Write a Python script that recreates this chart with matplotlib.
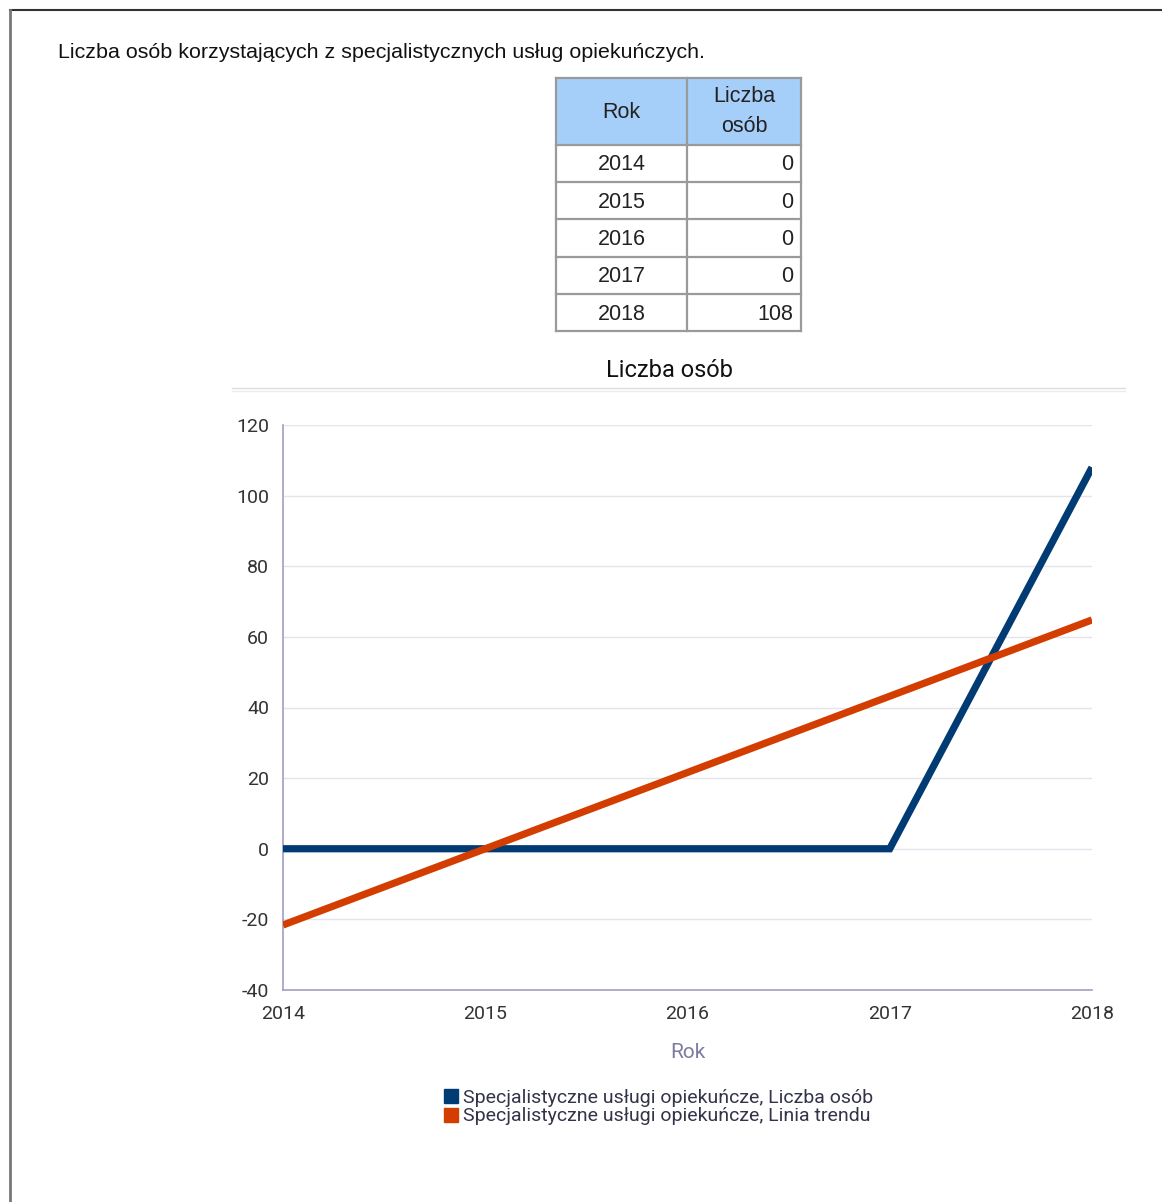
import matplotlib
matplotlib.use("Agg")
import matplotlib.pyplot as plt
from matplotlib.patches import Rectangle
from matplotlib.lines import Line2D
from matplotlib import font_manager

years = [2014, 2015, 2016, 2017, 2018]
liczba_osob = [0, 0, 0, 0, 108]
linia_trendu = [-21.6, 0.0, 21.6, 43.2, 64.8]
y_ticks = [-40, -20, 0, 20, 40, 60, 80, 100, 120]
header_text = "Liczba osób korzystających z specjalistycznych usług opiekuńczych."
table_cols = ["Rok", "Liczba\nosób"]
chart_title = "Liczba osób"
x_label = "Rok"
legend_labels = ["Specjalistyczne usługi opiekuńcze, Liczba osób",
                 "Specjalistyczne usługi opiekuńcze, Linia trendu"]

W, H = 1162, 1202
fig = plt.figure(figsize=(W / 100, H / 100), dpi=100)

names = {f.name for f in font_manager.fontManager.ttflist}
narrow = "Liberation Sans Narrow" if "Liberation Sans Narrow" in names else "Roboto"
sans = "Liberation Sans"

def fx(x):
    return x / W

def fy(y):
    return 1 - y / H

# page border (top and left)
fig.add_artist(Line2D([fx(10), 1], [fy(10), fy(10)], color="#333333", lw=1.5))
fig.add_artist(Line2D([fx(10), fx(10)], [fy(10), 0], color="#777777", lw=2))

fig.text(fx(58), fy(52), header_text, fontsize=15.4, family=sans,
         ha="left", va="center", color="#111111")

# table
col_x = [556, 687, 801]
row_y = [78, 145, 182, 219, 257, 294, 331]
fig.add_artist(Rectangle((fx(col_x[0]), fy(row_y[1])), fx(col_x[2] - col_x[0]),
                         (row_y[1] - row_y[0]) / H, facecolor="#a5cff9",
                         edgecolor="none"))
for x in col_x:
    fig.add_artist(Line2D([fx(x), fx(x)], [fy(row_y[0]), fy(row_y[-1])],
                          color="#9a9a9a", lw=1.6))
for y in row_y:
    fig.add_artist(Line2D([fx(col_x[0]), fx(col_x[2])], [fy(y), fy(y)],
                          color="#9a9a9a", lw=1.6))
fig.text(fx((col_x[0] + col_x[1]) / 2), fy((row_y[0] + row_y[1]) / 2 + 1), table_cols[0],
         fontsize=15.5, family=sans, ha="center", va="center", color="#222222")
fig.text(fx((col_x[1] + col_x[2]) / 2), fy((row_y[0] + row_y[1]) / 2), table_cols[1],
         fontsize=15.5, family=sans, ha="center", va="center", color="#222222",
         linespacing=1.6)
for i, (yr, v) in enumerate(zip(years, liczba_osob)):
    yc = (row_y[i + 1] + row_y[i + 2]) / 2 + 1.5
    fig.text(fx((col_x[0] + col_x[1]) / 2), fy(yc), str(yr), fontsize=15.5,
             family=sans, ha="center", va="center", color="#222222")
    fig.text(fx(col_x[2] - 8), fy(yc), str(v), fontsize=15.5,
             family=sans, ha="right", va="center", color="#222222")

# chart title and separator
fig.text(fx(670), fy(371), chart_title, fontsize=17, family=narrow,
         ha="center", va="center", color="#111111")
fig.add_artist(Line2D([fx(232), fx(1125)], [fy(388), fy(388)], color="#dcdcdc", lw=1))
fig.add_artist(Line2D([fx(232), fx(1125)], [fy(391), fy(391)], color="#ececec", lw=1))

# axes
left, right, top, bottom = 283, 1092, 425, 990
ax = fig.add_axes([fx(left), fy(bottom), (right - left) / W, (bottom - top) / H])
ax.plot(years, liczba_osob, color="#003b73", lw=5.2, solid_capstyle="butt",
        solid_joinstyle="miter", zorder=3)
ax.plot(years, linia_trendu, color="#d43d00", lw=5.2, solid_capstyle="butt", zorder=4)
ax.set_xlim(2014, 2018)
ax.set_ylim(-40, 120)
ax.set_xticks(years)
ax.set_yticks(y_ticks)
ax.set_xticklabels([str(y) for y in years], family=narrow, fontsize=14, color="#333333")
ax.set_yticklabels([str(t) for t in y_ticks], family=narrow, fontsize=14, color="#333333")
ax.tick_params(length=0, pad=10)
ax.tick_params(axis="x", pad=11)
ax.grid(axis="y", color="#e4e4ec", lw=1)
ax.set_axisbelow(True)
for s in ["top", "right"]:
    ax.spines[s].set_visible(False)
for s in ["left", "bottom"]:
    ax.spines[s].set_color("#a0a0c4")
    ax.spines[s].set_linewidth(1.2)
ax.set_xlabel(x_label, family=narrow, fontsize=15, color="#7c7ca0", labelpad=14)

# legend
handles = [Line2D([], [], marker="s", ls="none", markersize=10.5, color="#003b73"),
           Line2D([], [], marker="s", ls="none", markersize=10.5, color="#d43d00")]
fig.legend(handles, legend_labels, loc="center", bbox_to_anchor=(fx(658), fy(1107)),
           frameon=False, prop={"family": narrow, "size": 14}, handlelength=0.8,
           handletextpad=0.2, labelspacing=0.05, borderpad=0,
           labelcolor="#33334a")

fig.savefig("out.png", dpi=100, facecolor="white")
